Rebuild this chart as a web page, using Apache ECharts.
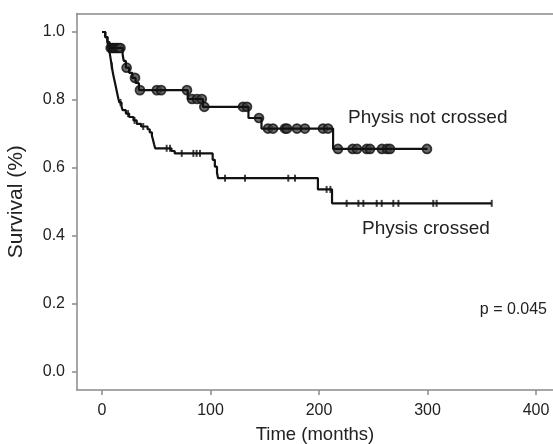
<!DOCTYPE html>
<html><head><meta charset="utf-8">
<script src="https://cdn.jsdelivr.net/npm/echarts@6/dist/echarts.min.js"></script>
<style>html,body{margin:0;padding:0;background:#fff}#c{width:553px;height:444px}</style>
</head><body><div id="c"></div>
<script>
// Kaplan-Meier steps: [time (months), survival after event]
const crossedSteps = [[0,1],[3,0.985],[5,0.97],[6,0.955],[7,0.94],[8,0.92],[9,0.9],[10,0.88],[11,0.865],[12,0.85],[13,0.835],[14,0.82],[15,0.805],[16,0.793],[18,0.781],[19,0.77],[22,0.76],[25,0.75],[29,0.74],[32,0.73],[36,0.722],[42,0.714],[44,0.705],[46,0.695],[47,0.683],[48,0.67],[49,0.658],[64,0.65],[67,0.643],[102,0.624],[104,0.604],[106,0.586],[107,0.57],[199,0.537],[212,0.496],[359,0.496]];
const crossedCensored = [9,17,24,30,38,59.6,62.7,73.5,84.2,87.2,90.3,113.4,131.8,171.7,177.9,207,210.5,225.5,236.3,240.9,253.2,257.8,268.5,273.2,305.3,308.4,359.2];
const notCrossedSteps = [[0,1],[3,0.985],[5,0.97],[7,0.953],[19,0.935],[20,0.915],[22,0.895],[25,0.88],[28,0.865],[31,0.85],[34,0.829],[79,0.803],[93,0.78],[135,0.747],[147,0.716],[213,0.656],[300,0.656]];
const notCrossedCensored = [8,9.5,11,12.5,14,15.5,17,22.7,30.4,35,50.5,54.5,78.3,83,87.6,92,94.3,130,133.6,144.7,153,157.6,168.7,170.5,179.7,187,203.7,208.3,217.5,231,235,244,247,258,262.7,265.4,299.5];
const xTicks = [0,100,200,300,400];
const yTicks = [0,0.2,0.4,0.6,0.8,1.0];
const labels = {notCrossed:'Physis not crossed', crossed:'Physis crossed', p:'p = 0.045'};

function survAt(steps, t){ let s = steps[0][1]; for (const [tt,v] of steps){ if (tt<=t) s=v; else break; } return s; }
const font = '"Liberation Sans", Arial, Helvetica, sans-serif';
const axisGrey = '#8a8a8a';
const chart = echarts.init(document.getElementById('c'));
chart.setOption({
  animation:false,
  grid:{left:77, right:0, top:13.5, bottom:54, containLabel:false, outerBoundsMode:'none'},
  xAxis:[{type:'value', min:-23.04, max:415.67, position:'bottom',
    name:'Time (months)', nameLocation:'middle', nameGap:35,
    nameTextStyle:{fontFamily:font, fontSize:18.5, color:'#222'},
    axisLine:{show:true, onZero:false, lineStyle:{color:axisGrey, width:1.5}},
    axisTick:{show:true, length:5, customValues:xTicks, lineStyle:{color:axisGrey, width:1.5}},
    axisLabel:{customValues:xTicks, fontFamily:font, fontSize:16, color:'#222', margin:13},
    splitLine:{show:false}},
   {type:'value', min:-23.04, max:415.67, position:'top',
    axisLine:{show:true, onZero:false, lineStyle:{color:axisGrey, width:1.5}},
    axisTick:{show:false}, axisLabel:{show:false}, splitLine:{show:false}}],
  yAxis:{type:'value', min:-0.0529, max:1.0544,
    name:'Survival (%)', nameLocation:'middle', nameGap:50, nameRotate:90,
    nameTextStyle:{fontFamily:font, fontSize:21, color:'#222'},
    axisLine:{show:true, onZero:false, lineStyle:{color:axisGrey, width:1.5}},
    axisTick:{show:true, length:5, customValues:yTicks, lineStyle:{color:axisGrey, width:1.5}},
    axisLabel:{customValues:yTicks, formatter:v=>v.toFixed(1), fontFamily:font, fontSize:16, color:'#222', margin:12},
    splitLine:{show:false}},
  series:[
    {type:'line', step:'end', data:notCrossedSteps, showSymbol:false, lineStyle:{color:'#111', width:2.2}, silent:true},
    {type:'line', step:'end', data:crossedSteps, showSymbol:false, lineStyle:{color:'#111', width:2.2}, silent:true},
    {type:'scatter', data:notCrossedCensored.map(t=>[t, survAt(notCrossedSteps,t)]), symbol:'circle', symbolSize:9,
      itemStyle:{color:'#444', borderColor:'#111', borderWidth:1.7}},
    {type:'scatter', data:crossedCensored.map(t=>[t, survAt(crossedSteps,t)]), symbol:'rect', symbolSize:[2,7],
      itemStyle:{color:'#111'}}
  ],
  graphic:[
    {type:'text', left:348, top:108, style:{text:labels.notCrossed, font:'19px '+font, fill:'#222'}},
    {type:'text', left:362, top:219, style:{text:labels.crossed, font:'19px '+font, fill:'#222'}},
    {type:'text', right:6, top:302, style:{text:labels.p, font:'16px '+font, fill:'#222'}}
  ]
});
</script></body></html>
